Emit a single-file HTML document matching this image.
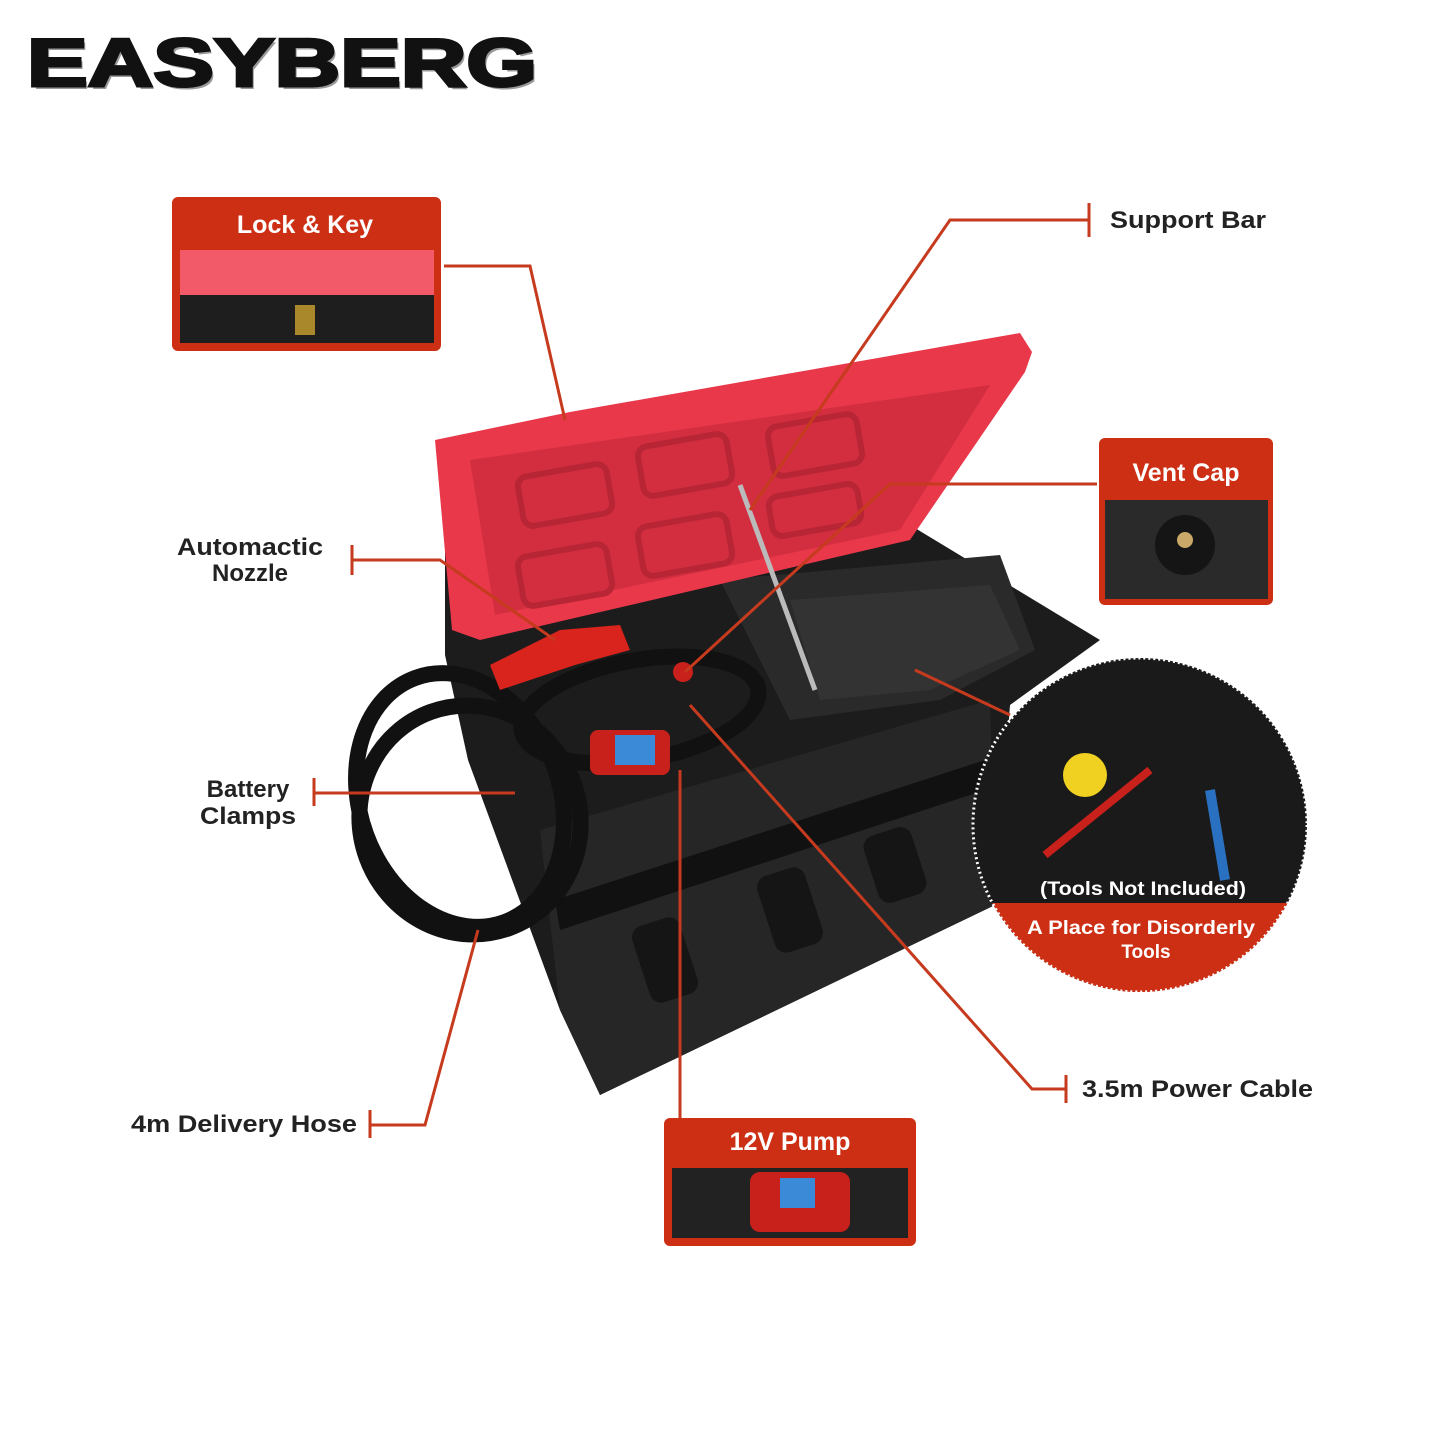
<!DOCTYPE html>
<html><head><meta charset="utf-8"><style>
html,body{margin:0;padding:0;background:#fff;}
svg{display:block}
text{font-family:"Liberation Sans",Arial,sans-serif;font-weight:bold}
</style></head><body>
<svg width="1445" height="1445" viewBox="0 0 1445 1445" xmlns="http://www.w3.org/2000/svg">
<rect width="1445" height="1445" fill="#fff"/>
<text x="30" y="89" font-size="68" fill="#999" font-weight="900" textLength="510" lengthAdjust="spacingAndGlyphs">EASYBERG</text>
<text x="27" y="86" font-size="68" fill="#111" font-weight="900" textLength="510" lengthAdjust="spacingAndGlyphs" stroke="#111" stroke-width="3">EASYBERG</text>

<polygon points="445,535 905,522 1100,640 1010,705 995,905 600,1095 560,1010 468,760 445,655" fill="#1c1c1c"/>
<polygon points="540,830 990,700 995,905 600,1095 560,1010" fill="#262626"/>
<polygon points="555,900 985,760 985,790 560,930" fill="#111"/>
<rect x="640" y="920" width="50" height="80" rx="12" fill="#151515" transform="rotate(-18 665 960)"/>
<rect x="765" y="870" width="50" height="80" rx="12" fill="#151515" transform="rotate(-18 790 910)"/>
<rect x="870" y="830" width="50" height="70" rx="12" fill="#151515" transform="rotate(-18 895 865)"/>
<polygon points="720,580 1000,555 1035,650 940,700 790,720" fill="#2a2a2a"/>
<polygon points="790,600 990,585 1020,650 930,690 820,700" fill="#333"/>
<polygon points="435,440 570,412 1020,333 1032,352 1025,372 910,540 480,640 452,630" fill="#e8384a"/>
<polygon points="470,460 990,385 900,530 495,615" fill="#d22e40"/>
<g fill="none" stroke="#b82535" stroke-width="6">
<rect x="520" y="470" width="90" height="50" rx="10" transform="rotate(-10 565 495)"/>
<rect x="640" y="440" width="90" height="50" rx="10" transform="rotate(-10 685 465)"/>
<rect x="770" y="420" width="90" height="50" rx="10" transform="rotate(-10 815 445)"/>
<rect x="520" y="550" width="90" height="50" rx="10" transform="rotate(-10 565 575)"/>
<rect x="640" y="520" width="90" height="50" rx="10" transform="rotate(-10 685 545)"/>
<rect x="770" y="490" width="90" height="40" rx="10" transform="rotate(-10 815 510)"/>
</g>
<line x1="740" y1="485" x2="815" y2="690" stroke="#bbb" stroke-width="5"/>
<g fill="none" stroke="#111" stroke-width="16">
<ellipse cx="460" cy="800" rx="100" ry="130" transform="rotate(-20 460 800)"/>
<ellipse cx="470" cy="820" rx="110" ry="115" transform="rotate(-20 470 820)"/>
<ellipse cx="640" cy="710" rx="120" ry="50" transform="rotate(-10 640 710)"/>
</g>
<path d="M490,665 L560,630 L620,625 L630,650 L575,665 L500,690 Z" fill="#d8241c"/>
<rect x="590" y="730" width="80" height="45" rx="8" fill="#c8201a"/>
<rect x="615" y="735" width="40" height="30" fill="#3a8ad8"/>
<circle cx="683" cy="672" r="10" fill="#c8201a"/>

<g stroke="#c63a1e" stroke-width="3" fill="none">
<polyline points="444,266 530,266 565,420"/>
<polyline points="1089,220 950,220 750,510"/>
<line x1="1089" y1="203" x2="1089" y2="237"/>
<polyline points="1097,484 890,484 685,672"/>
<polyline points="352,560 440,560 555,640"/>
<line x1="352" y1="545" x2="352" y2="575"/>
<line x1="314" y1="793" x2="515" y2="793"/>
<line x1="314" y1="778" x2="314" y2="806"/>
<polyline points="370,1125 425,1125 478,930"/>
<line x1="370" y1="1110" x2="370" y2="1138"/>
<line x1="680" y1="1118" x2="680" y2="770"/>
<polyline points="1066,1089 1032,1089 690,705"/>
<line x1="1066" y1="1075" x2="1066" y2="1103"/>
<line x1="915" y1="670" x2="1010" y2="715"/>
</g>

<rect x="172" y="197" width="269" height="154" rx="6" fill="#cc2f14"/>
<rect x="180" y="250" width="254" height="45" fill="#f25a6a"/>
<rect x="180" y="295" width="254" height="48" fill="#1e1e1e"/>
<rect x="295" y="305" width="20" height="30" fill="#a8882a"/>
<text x="305" y="233" font-size="25" fill="#fff" text-anchor="middle">Lock &amp; Key</text>

<rect x="1099" y="438" width="174" height="167" rx="6" fill="#cc2f14"/>
<rect x="1105" y="500" width="163" height="99" fill="#2a2a2a"/>
<circle cx="1185" cy="545" r="30" fill="#151515"/>
<circle cx="1185" cy="540" r="8" fill="#c9a86a"/>
<text x="1186" y="481" font-size="25" fill="#fff" text-anchor="middle">Vent Cap</text>

<rect x="664" y="1118" width="252" height="128" rx="6" fill="#cc2f14"/>
<rect x="672" y="1168" width="236" height="70" fill="#222"/>
<rect x="750" y="1172" width="100" height="60" rx="10" fill="#c8201a"/>
<rect x="780" y="1178" width="35" height="30" fill="#3a8ad8"/>
<text x="790" y="1150" font-size="25" fill="#fff" text-anchor="middle">12V Pump</text>

<defs><clipPath id="cc"><circle cx="1140" cy="825" r="167"/></clipPath></defs>
<circle cx="1140" cy="825" r="167" fill="#1a1a1a"/>
<rect x="970" y="903" width="340" height="100" fill="#cc2f14" clip-path="url(#cc)"/>
<circle cx="1085" cy="775" r="22" fill="#f0d020"/>
<line x1="1045" y1="855" x2="1150" y2="770" stroke="#c8201a" stroke-width="8"/>
<line x1="1210" y1="790" x2="1225" y2="880" stroke="#2a70c0" stroke-width="10"/>
<circle cx="1140" cy="825" r="167" fill="none" stroke="#fff" stroke-width="3" stroke-dasharray="2 3"/>
<text x="1143" y="895" font-size="19" fill="#fff" text-anchor="middle" textLength="206" lengthAdjust="spacingAndGlyphs">(Tools Not Included)</text>
<text x="1141" y="934" font-size="19" fill="#fff" text-anchor="middle" textLength="228" lengthAdjust="spacingAndGlyphs">A Place for  Disorderly</text>
<text x="1146" y="958" font-size="19" fill="#fff" text-anchor="middle">Tools</text>

<g font-size="24" fill="#222">
<text x="1110" y="228" textLength="156" lengthAdjust="spacingAndGlyphs">Support Bar</text>
<text x="250" y="555" text-anchor="middle" textLength="146" lengthAdjust="spacingAndGlyphs">Automactic</text>
<text x="250" y="581" text-anchor="middle">Nozzle</text>
<text x="248" y="797" text-anchor="middle">Battery</text>
<text x="248" y="824" text-anchor="middle" textLength="96" lengthAdjust="spacingAndGlyphs">Clamps</text>
<text x="131" y="1132" textLength="226" lengthAdjust="spacingAndGlyphs">4m Delivery Hose</text>
<text x="1082" y="1097" textLength="231" lengthAdjust="spacingAndGlyphs">3.5m Power Cable</text>
</g>
</svg>
</body></html>
